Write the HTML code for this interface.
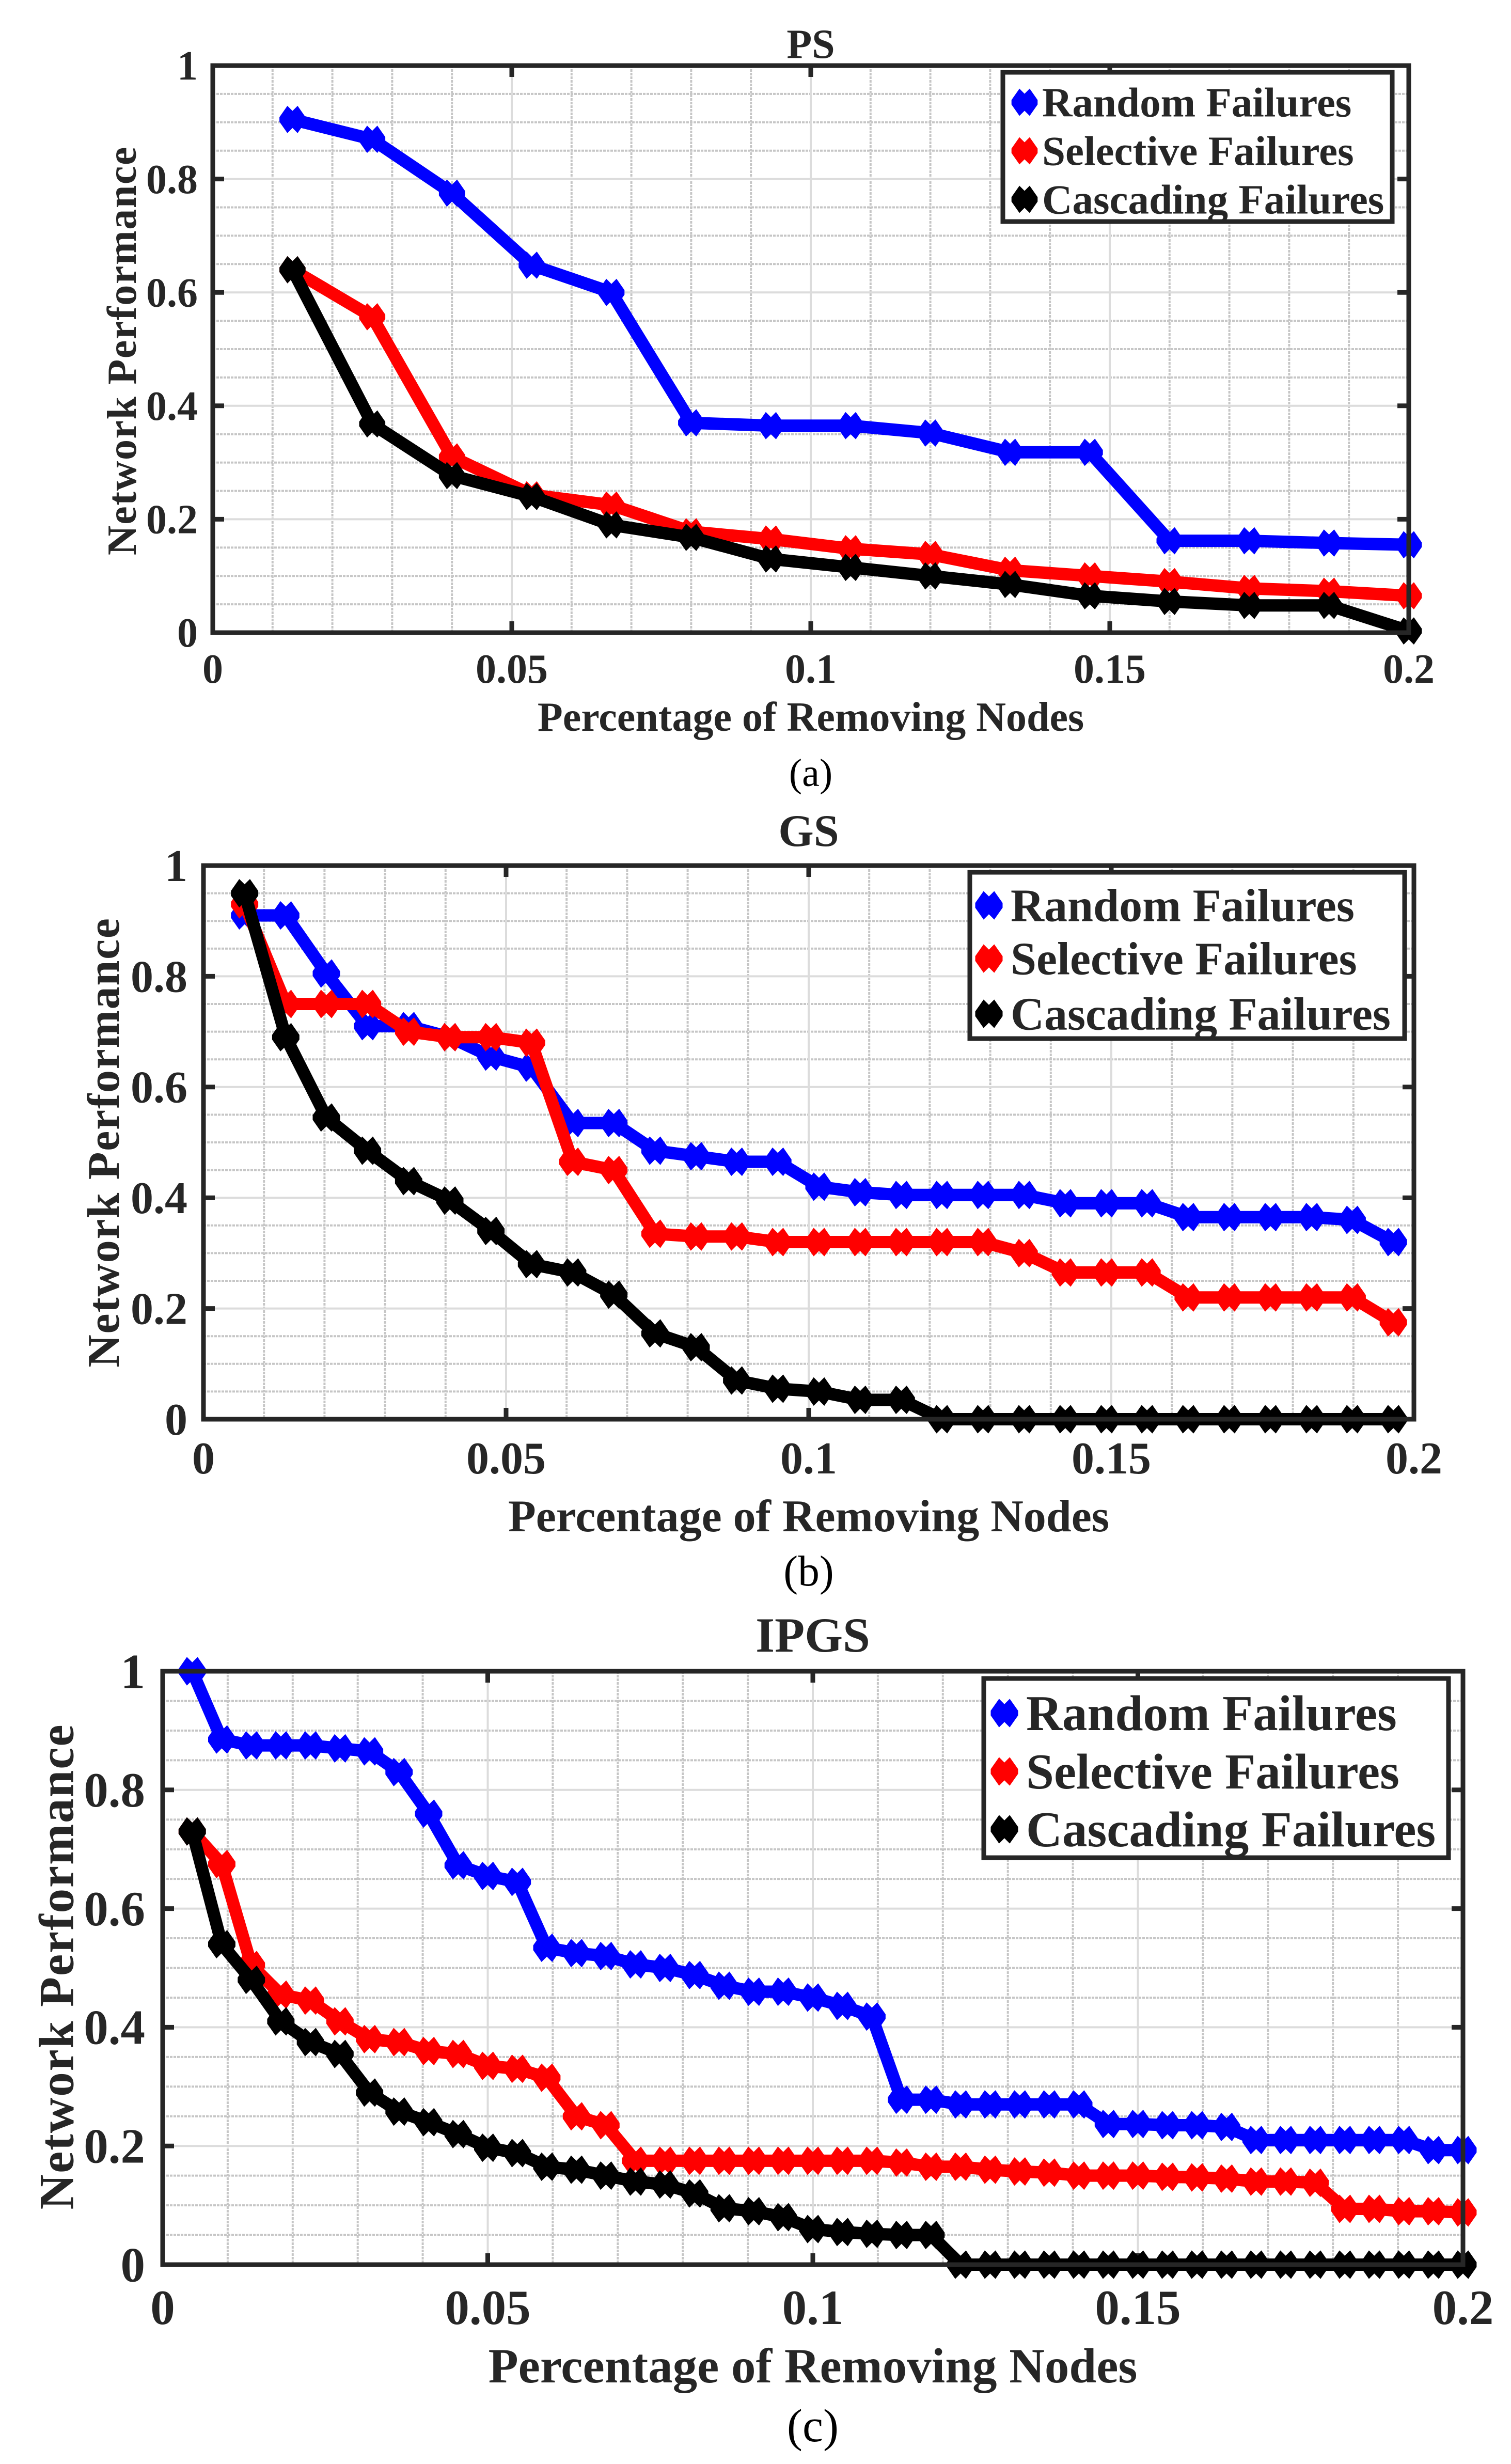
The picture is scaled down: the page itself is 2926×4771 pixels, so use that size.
<!DOCTYPE html>
<html><head><meta charset="utf-8"><style>
html,body{margin:0;padding:0;background:#fff;}
svg{display:block;}
text{font-family:"Liberation Serif","Times New Roman",serif;font-weight:bold;fill:#262626;}
</style></head><body>
<svg id="fig" width="2926" height="4771" viewBox="0 0 2926 4771" xmlns="http://www.w3.org/2000/svg"></svg>
<script>
const seriesNames = ["Random Failures","Selective Failures","Cascading Failures"];
const seriesColors = ["#0000ff","#ff0000","#000000"];
const xTicks = [0,0.05,0.1,0.15,0.2];
const xTickLabels = ["0","0.05","0.1","0.15","0.2"];
const yTicks = [0,0.2,0.4,0.6,0.8,1];
const yTickLabels = ["0","0.2","0.4","0.6","0.8","1"];

const psX = [0.01333,0.02667,0.04,0.05333,0.06667,0.08,0.09333,0.10667,0.12,0.13333,0.14667,0.16,0.17333,0.18667,0.2];
const psRandom = [0.905,0.87,0.775,0.648,0.6,0.37,0.365,0.365,0.352,0.318,0.318,0.162,0.162,0.158,0.155];
const psSelective = [0.64,0.557,0.31,0.243,0.225,0.178,0.165,0.148,0.138,0.11,0.1,0.09,0.078,0.073,0.065];
const psCascading = [0.64,0.368,0.277,0.24,0.19,0.168,0.13,0.115,0.1,0.085,0.065,0.055,0.048,0.048,0.003];

const gsX = [0.0068,0.0136,0.0203,0.0271,0.0339,0.0407,0.0475,0.0542,0.061,0.0678,0.0746,0.0814,0.0881,0.0949,0.1017,0.1085,0.1153,0.122,0.1288,0.1356,0.1424,0.1492,0.1559,0.1627,0.1695,0.1763,0.1831,0.1898,0.1966];
const gsRandom = [0.91,0.91,0.805,0.71,0.71,0.69,0.655,0.635,0.535,0.535,0.485,0.475,0.465,0.465,0.42,0.41,0.405,0.405,0.405,0.405,0.39,0.39,0.39,0.365,0.365,0.365,0.365,0.36,0.32];
const gsSelective = [0.93,0.75,0.75,0.75,0.70,0.69,0.69,0.68,0.465,0.45,0.335,0.33,0.33,0.32,0.32,0.32,0.32,0.32,0.32,0.30,0.265,0.265,0.265,0.22,0.22,0.22,0.22,0.22,0.175];
const gsCascading = [0.95,0.69,0.545,0.485,0.43,0.395,0.34,0.28,0.265,0.225,0.155,0.13,0.07,0.055,0.05,0.035,0.035,0,0,0,0,0,0,0,0,0,0,0,0];

const ipX = [0.00455,0.00909,0.01364,0.01818,0.02273,0.02727,0.03182,0.03636,0.04091,0.04545,0.05,0.05455,0.05909,0.06364,0.06818,0.07273,0.07727,0.08182,0.08636,0.09091,0.09545,0.1,0.10455,0.10909,0.11364,0.11818,0.12273,0.12727,0.13182,0.13636,0.14091,0.14545,0.15,0.15455,0.15909,0.16364,0.16818,0.17273,0.17727,0.18182,0.18636,0.19091,0.19545,0.2];
const ipRandom = [1.0,0.885,0.875,0.875,0.875,0.87,0.865,0.83,0.76,0.673,0.655,0.645,0.534,0.525,0.52,0.506,0.5,0.488,0.47,0.46,0.46,0.45,0.436,0.418,0.278,0.278,0.27,0.27,0.27,0.27,0.27,0.237,0.237,0.235,0.235,0.232,0.21,0.21,0.21,0.21,0.21,0.21,0.193,0.193];
const ipSelective = [0.73,0.675,0.505,0.455,0.445,0.41,0.38,0.375,0.36,0.355,0.335,0.33,0.315,0.25,0.235,0.175,0.175,0.175,0.175,0.175,0.175,0.175,0.175,0.175,0.172,0.165,0.165,0.16,0.157,0.155,0.15,0.15,0.15,0.148,0.147,0.145,0.14,0.14,0.138,0.094,0.094,0.09,0.09,0.088];
const ipCascading = [0.73,0.54,0.48,0.41,0.375,0.355,0.29,0.258,0.24,0.22,0.197,0.188,0.165,0.16,0.15,0.14,0.135,0.12,0.095,0.09,0.08,0.06,0.055,0.052,0.05,0.05,0,0,0,0,0,0,0,0,0,0,0,0,0,0,0,0,0,0];

const NS="http://www.w3.org/2000/svg";
const svg=document.getElementById('fig');
function mk(tag,attrs,parent){const e=document.createElementNS(NS,tag);for(const k in attrs)e.setAttribute(k,attrs[k]);(parent||svg).appendChild(e);return e;}

const panels=[
 {id:'a',title:'PS',cap:'(a)',x:psX,ys:[psRandom,psSelective,psCascading],L:412,R:2728,T:127,B:1225,fs:80,tfs:80,titleY:112,xlabY:1415,capY:1522,yl:{x:236,y:679,fs:80},tickBase:97,gap:29,
  leg:{x:1942,y:140,w:754,h:289,rows:[198,292,386],mx:1984,tx:2018,fs:81},ms:1.1},
 {id:'b',title:'GS',cap:'(b)',x:gsX,ys:[gsRandom,gsSelective,gsCascading],L:394,R:2738,T:1676,B:2748,fs:88,tfs:88,titleY:1638,xlabY:2965,capY:3070,yl:{x:200,y:2212,fs:88},tickBase:105,gap:31,
  leg:{x:1878,y:1689,w:842,h:322,rows:[1753,1856,1963],mx:1915,tx:1957,fs:90},ms:1.15},
 {id:'c',title:'IPGS',cap:'(c)',x:ipX,ys:[ipRandom,ipSelective,ipCascading],L:315,R:2833,T:3236,B:4385,fs:95,tfs:95,titleY:3198,xlabY:4613,capY:4727,yl:{x:109,y:3808,fs:95},tickBase:115,gap:34,
  leg:{x:1905,y:3250,w:900,h:347,rows:[3317,3430,3542],mx:1945,tx:1987,fs:97},ms:1.15}
];

function markerPts(cx,cy,s){
 const p=[[-23,-4],[-9,-24],[0,-15],[9,-24],[23,-4],[23,4],[9,24],[0,15],[-9,24],[-23,4]];
 return p.map(q=>(cx+q[0]*s).toFixed(1)+','+(cy+q[1]*s).toFixed(1)).join(' ');
}

panels.forEach(P=>{
 const g=mk('g',{});
 
 
 const xs=v=>P.L+(P.R-P.L)*v/0.2;
 const ys=v=>P.B-(P.B-P.T)*v;
 const gridG=mk('g',{},g);
 
 
 for(let i=1;i<20;i++){ if(i%5===0) continue; const X=xs(i*0.01);
  mk('line',{x1:X,y1:P.T,x2:X,y2:P.B,stroke:'#c6c6c6','stroke-width':4,'stroke-dasharray':'5 2'},gridG);}
 for(let i=1;i<20;i++){ if(i%4===0) continue; const Y=ys(i*0.05);
  mk('line',{x1:P.L,y1:Y,x2:P.R,y2:Y,stroke:'#c6c6c6','stroke-width':4,'stroke-dasharray':'5 2'},gridG);}
 xTicks.forEach(t=>{const X=xs(t);mk('line',{x1:X,y1:P.T,x2:X,y2:P.B,stroke:'#dcdcdc','stroke-width':4},gridG);});
 yTicks.forEach(t=>{const Y=ys(t);mk('line',{x1:P.L,y1:Y,x2:P.R,y2:Y,stroke:'#dcdcdc','stroke-width':4},gridG);});
 xTicks.forEach((t,i)=>{const X=xs(t);
  mk('line',{x1:X,y1:P.B,x2:X,y2:P.B-22,stroke:'#262626','stroke-width':9},g);
  mk('line',{x1:X,y1:P.T,x2:X,y2:P.T+22,stroke:'#262626','stroke-width':9},g);
  const tx=mk('text',{x:X,y:P.B+P.tickBase,'text-anchor':'middle','font-size':P.fs},g);
  tx.textContent=xTickLabels[i];
  
  
 });
 yTicks.forEach((t,i)=>{const Y=ys(t);
  mk('line',{x1:P.L,y1:Y,x2:P.L+22,y2:Y,stroke:'#262626','stroke-width':9},g);
  mk('line',{x1:P.R,y1:Y,x2:P.R-22,y2:Y,stroke:'#262626','stroke-width':9},g);
  const tx=mk('text',{x:P.L-P.gap,y:Y+P.fs*0.34,'text-anchor':'end','font-size':P.fs},g);
  tx.textContent=yTickLabels[i];
  
  
 });
 P.ys.forEach((arr,si)=>{
  const sg=mk('g',{},g);
  
  
  const d=arr.map((v,i)=>(i?'L':'M')+xs(P.x[i]).toFixed(1)+' '+ys(v).toFixed(1)).join(' ');
  mk('path',{d:d,fill:'none',stroke:seriesColors[si],'stroke-width':24,'stroke-linejoin':'miter'},sg);
  arr.forEach((v,i)=>{
   const m=mk('polygon',{points:markerPts(xs(P.x[i]),ys(v),P.ms),fill:seriesColors[si]},sg);
   
   
  });
 });
 const box=mk('rect',{x:P.L,y:P.T,width:P.R-P.L,height:P.B-P.T,fill:'none',stroke:'#262626','stroke-width':9},g);
 
 
 const ti=mk('text',{x:(P.L+P.R)/2,y:P.titleY,'text-anchor':'middle','font-size':P.tfs,fill:'#000'},g);
 ti.textContent=P.title;
 
 
 const xl=mk('text',{x:(P.L+P.R)/2,y:P.xlabY,'text-anchor':'middle','font-size':P.fs},g);
 xl.textContent='Percentage of Removing Nodes';
 
 
 const yl=mk('text',{x:0,y:0,'text-anchor':'middle','font-size':P.yl.fs,transform:'translate('+P.yl.x+','+P.yl.y+') rotate(-90)',dy:P.yl.fs*0.34,'letter-spacing':P.yl.fs*0.02},g);
 yl.textContent='Network Performance';
 
 
 const cp=mk('text',{x:(P.L+P.R)/2,y:P.capY,'text-anchor':'middle','font-size':P.fs*0.95,style:'font-weight:normal;fill:#000'},g);
 cp.textContent=P.cap;
 
 
 const lg=mk('g',{},g);
 
 
 mk('rect',{x:P.leg.x,y:P.leg.y,width:P.leg.w,height:P.leg.h,fill:'#fff',stroke:'#262626','stroke-width':9},lg);
 seriesNames.forEach((n,si)=>{
  const e=mk('g',{},lg);
  
  
  mk('polygon',{points:markerPts(P.leg.mx,P.leg.rows[si],P.ms),fill:seriesColors[si]},e);
  const t=mk('text',{x:P.leg.tx,y:P.leg.rows[si]+P.leg.fs*0.34,'font-size':P.leg.fs,fill:'#000'},e);
  t.textContent=n;
 });
});
</script>
</body></html>
